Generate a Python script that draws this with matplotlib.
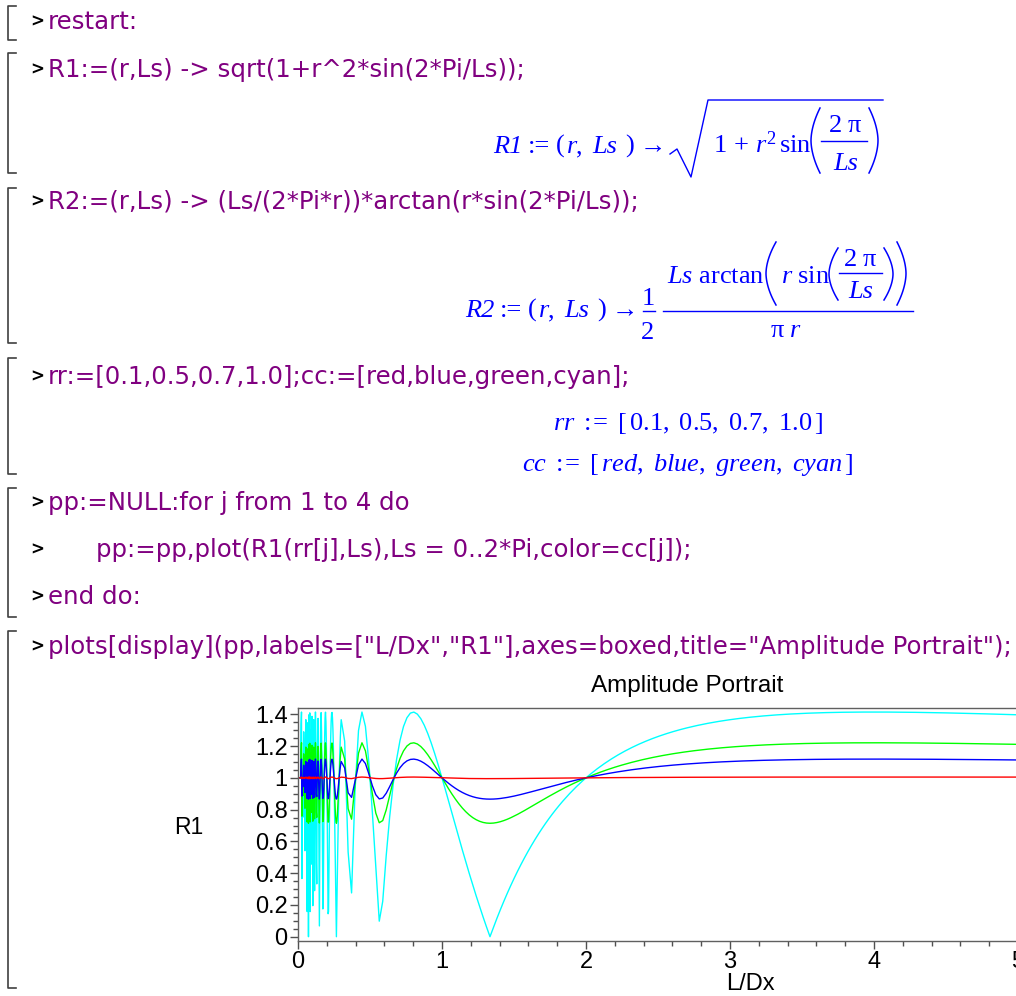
import numpy as np
import matplotlib
matplotlib.use("Agg")
import matplotlib.pyplot as plt
from matplotlib.lines import Line2D
from matplotlib.ticker import MultipleLocator, FormatStrFormatter

# values from the worksheet
rr = [0.1, 0.5, 0.7, 1.0]
cc = ["red", "blue", "green", "cyan"]
line_colors = ["#ff0000", "#0000ff", "#00ff00", "#00ffff"]
ls_range = (0.0, 2 * np.pi)
ls_split = 0.3          # Maple samples the oscillating part more finely
n_fine, n_coarse = 100, 250
yticks = [0, 0.2, 0.4, 0.6, 0.8, 1, 1.2, 1.4]
xticks = [0, 1, 2, 3, 4, 5, 6]

input_lines = [
    (22, 48, "restart:"),
    (70, 48, "R1:=(r,Ls) -> sqrt(1+r^2*sin(2*Pi/Ls));"),
    (202, 48, "R2:=(r,Ls) -> (Ls/(2*Pi*r))*arctan(r*sin(2*Pi/Ls));"),
    (377, 48, "rr:=[0.1,0.5,0.7,1.0];cc:=[red,blue,green,cyan];"),
    (503, 48, "pp:=NULL:for j from 1 to 4 do"),
    (550, 96, "pp:=pp,plot(R1(rr[j],Ls),Ls = 0..2*Pi,color=cc[j]);"),
    (597, 48, "end do:"),
    (647, 48, 'plots[display](pp,labels=["L/Dx","R1"],axes=boxed,title="Amplitude Portrait");'),
]
brackets = [(6, 40), (53, 173), (188, 343), (358, 474), (488, 617), (631, 988)]

W, H = 1016, 996
PURPLE = "#800080"
BLUE = "#0000ff"
FS = 19

plt.rcParams["mathtext.fontset"] = "custom"
plt.rcParams["mathtext.rm"] = "Liberation Serif"
plt.rcParams["mathtext.it"] = "Liberation Serif:italic"
plt.rcParams["mathtext.bf"] = "Liberation Serif:bold"


def R1(r, Ls):
    return np.sqrt(1 + r ** 2 * np.sin(2 * np.pi / Ls))


def fx(x):
    return x / W


def fy(y):
    return 1 - y / H


fig = plt.figure(figsize=(W / 100, H / 100), dpi=100)


def line(xs, ys, color=BLUE, lw=1.0):
    fig.add_artist(Line2D([fx(v) for v in xs], [fy(v) for v in ys],
                          color=color, lw=lw, transform=fig.transFigure))


def mtext(x, y, s, ha="left", style="normal"):
    fig.text(fx(x), fy(y), s, color=BLUE, fontsize=FS, ha=ha, va="baseline",
             family="Liberation Serif", style=style)


def paren(xtip, xbulge, ytop, ybot):
    s = np.linspace(-1, 1, 41)
    ys = (ytop + ybot) / 2 + s * (ybot - ytop) / 2
    xs = xbulge + (xtip - xbulge) * np.abs(s) ** 1.8
    line(xs, ys, lw=1.1)


def head(x, y, name):
    # "name := ( r, Ls ) ->" laid out like Maple's output
    mtext(x, y, name, style="italic")
    mtext(x + 35, y, ":=")
    mtext(x + 63, y, "(")
    mtext(x + 74, y, "r", style="italic")
    mtext(x + 83, y, ",")
    mtext(x + 99, y, "Ls", style="italic")
    mtext(x + 132, y, ")")
    mtext(x + 147, y, "\u2192")


# worksheet brackets
for top, bot in brackets:
    line([16, 8, 8, 16], [top, top, bot, bot], color="#404040", lw=1.2)

# input lines with prompts
for y, x, txt in input_lines:
    fig.text(fx(30), fy(y), ">", color="black", fontsize=12, fontweight="bold",
             ha="left", va="center")
    fig.text(fx(x), fy(y), txt, color=PURPLE, fontsize=17.6, family="DejaVu Sans",
             ha="left", va="center")

# maple output, R1
head(493, 153, "R1")
line([670, 677, 691, 708, 883], [154, 149, 177, 100, 100])
mtext(713, 153, r"$1\,+\,r^{2}\,\mathrm{sin}$")
paren(820, 811, 108, 173)
mtext(845, 132, r"$2\ \mathrm{\pi}$", ha="center")
line([821, 867], [141, 141])
mtext(846, 170, "Ls", ha="center", style="italic")
paren(869, 878, 108, 173)

# maple output, R2
head(465, 317, "R2")
mtext(648, 305, "1", ha="center")
line([643, 655], [311, 311])
mtext(648, 339, "2", ha="center")
line([663, 913], [311, 311])
mtext(667, 283, r"$Ls\ \mathrm{arctan}$")
paren(776, 766, 242, 305)
mtext(781, 283, r"$r\ \mathrm{sin}$")
paren(838, 829, 248, 300)
mtext(860, 266, r"$2\ \mathrm{\pi}$", ha="center")
line([839, 882], [273, 273])
mtext(861, 298, "Ls", ha="center", style="italic")
paren(884, 893, 248, 300)
paren(897, 906, 242, 305)
mtext(786, 337, r"$\mathrm{\pi}\ r$", ha="center")

# maple output, lists
rr_txt = ",\\ ".join(f"{v:.1f}" for v in rr)
cc_txt = ",\\ ".join(cc)
fig.text(fx(688), fy(423), r"$rr\ \mathrm{:}\!\!=\ [\,%s\,]$" % rr_txt,
         color=BLUE, fontsize=FS, ha="center", va="center")
fig.text(fx(688), fy(465), r"$cc\ \mathrm{:}\!\!=\ [\,%s\,]$" % cc_txt,
         color=BLUE, fontsize=FS, ha="center", va="center")

# the plot
x0, x1 = 298, 298 + 2 * np.pi * 144
ytop, ybot = 707.7, 940.7
ax = fig.add_axes([fx(x0), fy(ybot), (x1 - x0) / W, (ybot - ytop) / H])
Ls = np.concatenate([np.linspace(ls_range[0], ls_split, n_fine)[1:],
                     np.linspace(ls_split, ls_range[1], n_coarse)[1:]])
for k, (r, c) in enumerate(zip(rr, line_colors)):
    ax.plot(Ls, R1(r, Ls), color=c, lw=1.0, zorder=10 - k)

ax.set_xlim(ls_range)
ax.set_ylim(-0.025, 1.4415)
ax.set_xticks(xticks)
ax.set_yticks(yticks)
ax.xaxis.set_minor_locator(MultipleLocator(0.2))
ax.yaxis.set_minor_locator(MultipleLocator(0.05))
ax.yaxis.set_major_formatter(FormatStrFormatter("%g"))
for s in ax.spines.values():
    s.set_color("#606060")
    s.set_linewidth(1.0)
    s.set_zorder(20)
ax.tick_params(which="major", length=5.5, width=1, color="#505050", pad=2,
               labelsize=17, direction="out")
ax.tick_params(which="minor", length=3.3, width=1, color="#505050", direction="out")
for lab in ax.get_xticklabels() + ax.get_yticklabels():
    lab.set_family("Liberation Sans")
ax.set_xlabel("L/Dx", fontsize=17, family="Liberation Sans", labelpad=0)

fig.text(fx(687), fy(686), "Amplitude Portrait", fontsize=17.5,
         family="Liberation Sans", ha="center", va="center")
fig.text(fx(189), fy(827), "R1", fontsize=16.5, family="Liberation Sans",
         ha="center", va="center")

fig.savefig("out.png", dpi=100)
